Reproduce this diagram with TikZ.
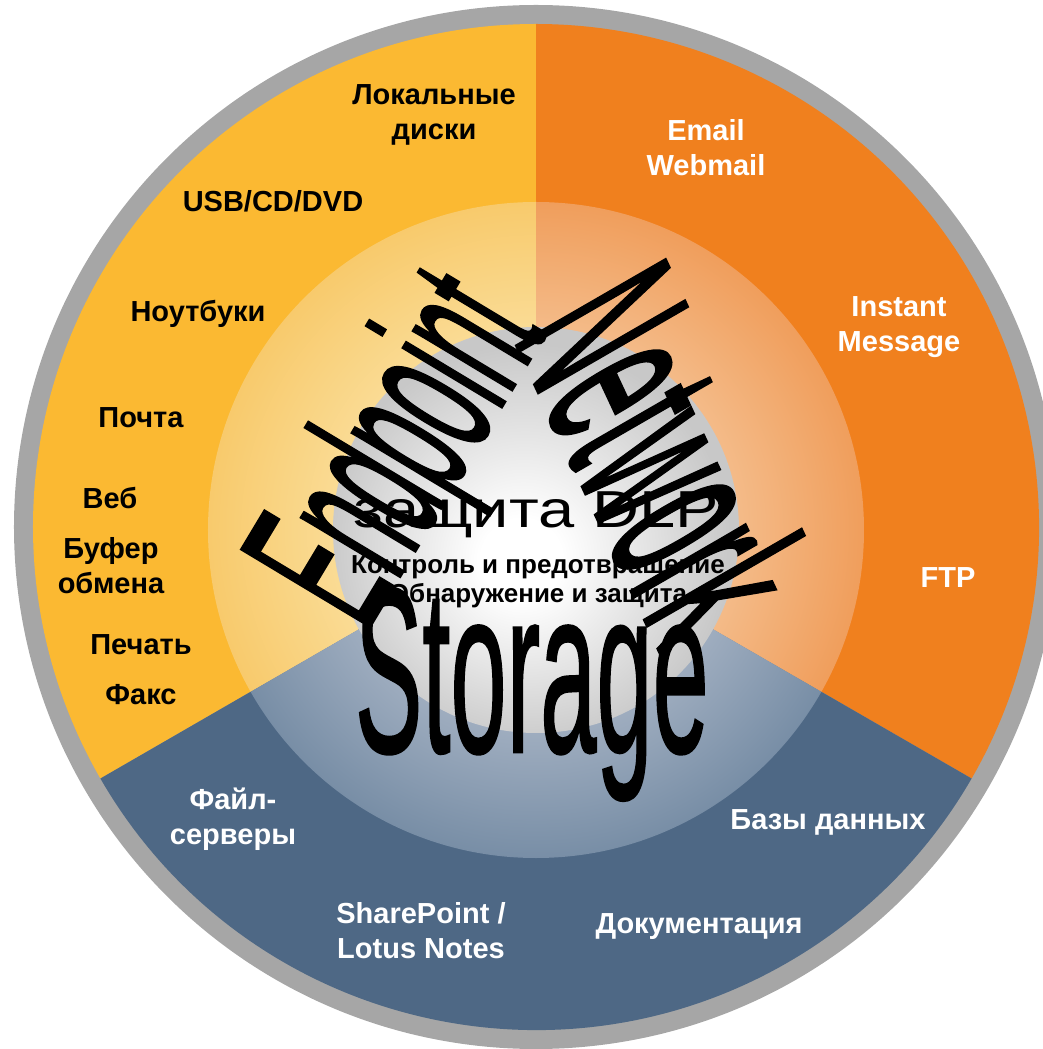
\documentclass[tikz,border=0pt]{standalone}
\usepackage{fontspec}
\setmainfont{Liberation Sans}
\newfontfamily\wordfont{Liberation Sans}[FakeBold=1.2]
\usepackage{tikz}
\usetikzlibrary{positioning}

\definecolor{ringgrey}{RGB}{166,166,166}
\definecolor{sunyellow}{RGB}{251,185,50}
\definecolor{deeporange}{RGB}{240,128,30}
\definecolor{slateblue}{RGB}{78,104,133}
\definecolor{yellowlite}{RGB}{250,220,150}
\definecolor{yellowedge}{RGB}{248,202,108}
\definecolor{orangelite}{RGB}{244,188,138}
\definecolor{orangeedge}{RGB}{240,158,92}
\definecolor{bluelite}{RGB}{160,174,192}
\definecolor{blueedge}{RGB}{120,142,166}
\definecolor{spheregrey}{RGB}{200,200,200}

\pgfdeclareradialshading{yellowring}{\pgfpoint{0bp}{0bp}}{color(0bp)=(yellowlite);color(15bp)=(yellowlite);color(25bp)=(yellowedge);color(50bp)=(yellowedge)}
\pgfdeclareradialshading{orangering}{\pgfpoint{0bp}{0bp}}{color(0bp)=(orangelite);color(15bp)=(orangelite);color(25bp)=(orangeedge);color(50bp)=(orangeedge)}
\pgfdeclareradialshading{bluering}{\pgfpoint{0bp}{0bp}}{color(0bp)=(bluelite);color(15bp)=(bluelite);color(25bp)=(blueedge);color(50bp)=(blueedge)}
\pgfdeclareradialshading{sphereball}{\pgfpoint{-2bp}{-4bp}}{color(0bp)=(white);color(5bp)=(white);color(25bp)=(spheregrey);color(50bp)=(spheregrey)}

\begin{document}
\begin{tikzpicture}[x=1pt,y=1pt,
    sector label/.style={font=\fontsize{29}{35}\selectfont\bfseries,align=center,inner sep=0pt},
    dark label/.style={sector label,text=black},
    light label/.style={sector label,text=white},
    goal/.style={font=\fontsize{26}{29}\selectfont\bfseries,inner sep=0pt,text height=19pt,text depth=6pt},
    big word/.style={font=\wordfont\fontsize{10}{10}\selectfont,anchor=base west,inner sep=0pt,transform shape}]

  \useasboundingbox (-536,-522) rectangle (507,527);

  \fill[ringgrey] (0,0) circle[radius=522];
  \fill[sunyellow] (0,0) -- (90:503) arc[start angle=90,end angle=210,radius=503] -- cycle;
  \fill[deeporange] (0,0) -- (-30:503) arc[start angle=-30,end angle=90,radius=503] -- cycle;
  \fill[slateblue] (0,0) -- (210:503) arc[start angle=210,end angle=330,radius=503] -- cycle;

  \begin{scope}
    \clip (0,0) -- (90:400) arc[start angle=90,end angle=210,radius=400] -- cycle;
    \shade[shading=yellowring] (0,-3) circle[radius=328];
  \end{scope}
  \begin{scope}
    \clip (0,0) -- (-30:400) arc[start angle=-30,end angle=90,radius=400] -- cycle;
    \shade[shading=orangering] (0,-3) circle[radius=328];
  \end{scope}
  \begin{scope}
    \clip (0,0) -- (210:400) arc[start angle=210,end angle=330,radius=400] -- cycle;
    \shade[shading=bluering] (0,-3) circle[radius=328];
  \end{scope}

  \shade[shading=sphereball] (0,-3) circle[radius=203];

  \node[dark label,anchor=north] (local) at (-102,443) {Локальные\\диски};
  \node[dark label,anchor=base] (usb) at (-263,315) {USB/CD/DVD};
  \node[dark label,anchor=base] (laptops) at (-338,205) {Ноутбуки};
  \node[dark label,anchor=base] (mail) at (-395,99) {Почта};
  \node[dark label,anchor=base] (web) at (-426,18) {Веб};
  \node[dark label,anchor=north] (clipboard) at (-425,-10) {Буфер\\обмена};
  \node[dark label,anchor=base] (print) at (-395,-127) {Печать};
  \node[dark label,anchor=base] (fax) at (-395,-177) {Факс};

  \node[light label,anchor=north] (email) at (170,408) {Email\\Webmail};
  \node[light label,anchor=north] (im) at (363,231) {Instant\\Message};
  \node[light label,anchor=base] (ftp) at (412,-60) {FTP};

  \node[light label,anchor=north] (fileservers) at (-303,-261) {Файл-\\серверы};
  \node[light label,anchor=north] (sharepoint) at (-115,-375) {SharePoint /\\Lotus Notes};
  \node[light label,anchor=base] (databases) at (292,-302) {Базы данных};
  \node[light label,anchor=base] (docs) at (163,-406) {Документация};

  \node[font=\fontsize{52}{52}\selectfont,anchor=base,inner sep=0pt] (dlp) at (0,-1) {\scalebox{1.25}[1]{защита DLP}};
  \node[goal,anchor=base] (control) at (2,-46) {Контроль и предотвращение};
  \node[goal,below=4pt of control] (detect) {Обнаружение и защита};

  \begin{scope}[shift={(-171,-108)}]
    \node[big word,cm={4.58,7.63,-18.69,11.23,(0,0)}] (endpoint) at (0,0) {Endpoint};
  \end{scope}
  \begin{scope}[shift={(-24,191)}]
    \node[big word,cm={4.06,-8.70,21.65,12.5,(0,0)}] (network) at (0,0) {Network};
  \end{scope}
  \begin{scope}[shift={(-183,-225)}]
    \node[big word,cm={10.1,0,0,23.5,(0,0)}] (storage) at (0,0) {Storage};
  \end{scope}
\end{tikzpicture}
\end{document}
